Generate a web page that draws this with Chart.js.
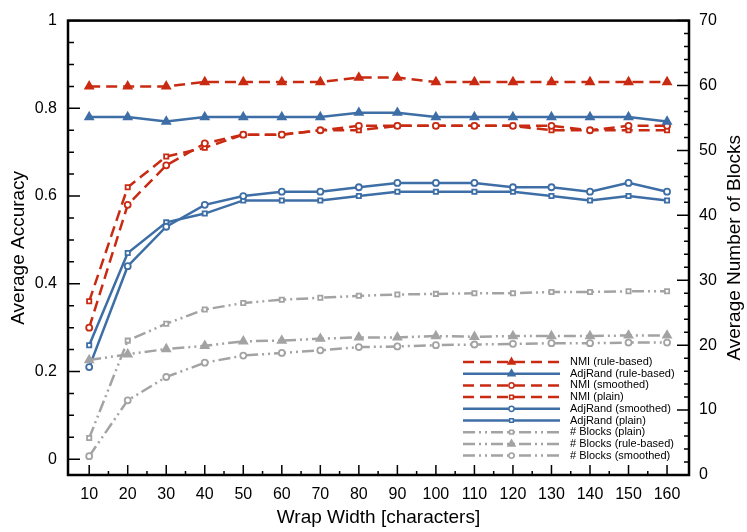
<!DOCTYPE html>
<html>
<head>
<meta charset="utf-8">
<script src="https://cdn.jsdelivr.net/npm/chart.js@4"></script>
<style>
  html, body { margin: 0; padding: 0; background: #fff; }
  #wrap { width: 747px; height: 532px; }
</style>
</head>
<body>
<div id="wrap"><canvas id="chart" width="747" height="532"></canvas></div>
<script>
// Wrap widths (x categories)
const widths = [10, 20, 30, 40, 50, 60, 70, 80, 90, 100, 110, 120, 130, 140, 150, 160];

// Accuracy series (left axis)
const nmiRule = [0.85, 0.85, 0.85, 0.86, 0.86, 0.86, 0.86, 0.87, 0.87, 0.86, 0.86, 0.86, 0.86, 0.86, 0.86, 0.86];
const adjRule = [0.78, 0.78, 0.77, 0.78, 0.78, 0.78, 0.78, 0.79, 0.79, 0.78, 0.78, 0.78, 0.78, 0.78, 0.78, 0.77];
const nmiSmoothed = [0.30, 0.58, 0.67, 0.72, 0.74, 0.74, 0.75, 0.76, 0.76, 0.76, 0.76, 0.76, 0.76, 0.75, 0.76, 0.76];
const nmiPlain = [0.36, 0.62, 0.69, 0.71, 0.74, 0.74, 0.75, 0.75, 0.76, 0.76, 0.76, 0.76, 0.75, 0.75, 0.75, 0.75];
const adjSmoothed = [0.21, 0.44, 0.53, 0.58, 0.60, 0.61, 0.61, 0.62, 0.63, 0.63, 0.63, 0.62, 0.62, 0.61, 0.63, 0.61];
const adjPlain = [0.26, 0.47, 0.54, 0.56, 0.59, 0.59, 0.59, 0.60, 0.61, 0.61, 0.61, 0.61, 0.60, 0.59, 0.60, 0.59];

// Number of blocks (right axis)
const blocksPlain = [5.7, 20.7, 23.3, 25.5, 26.5, 27.0, 27.3, 27.6, 27.8, 27.9, 28.0, 28.0, 28.2, 28.2, 28.3, 28.3];
const blocksRule = [17.7, 18.6, 19.4, 19.9, 20.6, 20.7, 21.0, 21.2, 21.2, 21.4, 21.3, 21.4, 21.4, 21.4, 21.5, 21.5];
const blocksSmoothed = [2.9, 11.5, 15.1, 17.3, 18.4, 18.8, 19.2, 19.7, 19.8, 20.0, 20.1, 20.2, 20.3, 20.3, 20.4, 20.4];

// Tick labels
const xTicks = widths;
const accTicks = [0, 0.2, 0.4, 0.6, 0.8, 1];
const blockTicks = [0, 10, 20, 30, 40, 50, 60, 70];

const legendOrder = [
  "NMI (rule-based)", "AdjRand (rule-based)", "NMI (smoothed)", "NMI (plain)",
  "AdjRand (smoothed)", "AdjRand (plain)", "# Blocks (plain)", "# Blocks (rule-based)", "# Blocks (smoothed)"
];

const RED = "#c92a12";
const BLUE = "#3e6ea6";
const GREY = "#a3a3a3";
const FONT = "'Liberation Sans', Arial, Helvetica, sans-serif";

const pts = (arr) => arr.map((v, i) => ({ x: widths[i], y: v }));

function series(label, values, color, dash, style, axis) {
  const filled = style === "triangle";
  return {
    label: label,
    data: pts(values),
    yAxisID: axis,
    borderColor: color,
    borderWidth: 2.5,
    borderDash: dash,
    pointStyle: style,
    pointRadius: filled ? 4.5 : 3,
    pointBorderWidth: 1.8,
    pointBackgroundColor: filled ? color : "#fff",
    pointBorderColor: color,
    fill: false,
    tension: 0,
  };
}

const dashRed = [11, 6];
const dashGrey = [12, 4, 2, 4, 2, 4];

const datasets = [
  series("# Blocks (plain)", blocksPlain, GREY, dashGrey, "rect", "yR"),
  series("# Blocks (rule-based)", blocksRule, GREY, dashGrey, "triangle", "yR"),
  series("# Blocks (smoothed)", blocksSmoothed, GREY, dashGrey, "circle", "yR"),
  series("AdjRand (smoothed)", adjSmoothed, BLUE, [], "circle", "y"),
  series("AdjRand (plain)", adjPlain, BLUE, [], "rect", "y"),
  series("AdjRand (rule-based)", adjRule, BLUE, [], "triangle", "y"),
  series("NMI (smoothed)", nmiSmoothed, RED, dashRed, "circle", "y"),
  series("NMI (plain)", nmiPlain, RED, dashRed, "rect", "y"),
  series("NMI (rule-based)", nmiRule, RED, dashRed, "triangle", "y"),
];

// Frame + inward tick marks + right title (reads bottom to top)
const frameTicks = {
  id: "frameTicks",
  afterDatasetsDraw(chart) {
    const ctx = chart.ctx;
    const a = chart.chartArea;
    const sx = chart.scales.x, sy = chart.scales.y, sr = chart.scales.yR;
    ctx.save();
    ctx.strokeStyle = "#000";
    ctx.lineWidth = 1.5;
    ctx.beginPath();
    for (let v = 10; v <= 160; v += 5) {
      const px = sx.getPixelForValue(v);
      const len = v % 10 === 0 ? 10 : 4;
      ctx.moveTo(px, a.bottom); ctx.lineTo(px, a.bottom - len);
    }
    for (let i = 0; i <= 20; i++) {
      const v = i * 0.05;
      const py = sy.getPixelForValue(v);
      const len = i % 4 === 0 ? 12 : 6;
      ctx.moveTo(a.left, py); ctx.lineTo(a.left + len, py);
    }
    for (let v = 0; v <= 70; v += 2) {
      const py = sr.getPixelForValue(v);
      const len = v % 10 === 0 ? 12 : 5;
      ctx.moveTo(a.right, py); ctx.lineTo(a.right - len, py);
    }
    ctx.stroke();
    ctx.lineWidth = 2.5;
    ctx.strokeRect(a.left, a.top, a.right - a.left, a.bottom - a.top);

    ctx.translate(chart.width - 12, (a.top + a.bottom) / 2);
    ctx.rotate(-Math.PI / 2);
    ctx.font = "19px " + FONT;
    ctx.fillStyle = "#000";
    ctx.textAlign = "center";
    ctx.textBaseline = "middle";
    ctx.fillText("Average Number of Blocks", 0, 0);
    ctx.restore();
  }
};

// Legend drawn inside the plot, bottom right
const innerLegend = {
  id: "innerLegend",
  afterDraw(chart) {
    const ctx = chart.ctx;
    const a = chart.chartArea;
    const x0 = a.right - 226, x1 = a.right - 129, tx = a.right - 119;
    let y = a.bottom - 113;
    ctx.save();
    ctx.font = "11px " + FONT;
    ctx.textBaseline = "middle";
    legendOrder.forEach((label) => {
      const idx = chart.data.datasets.findIndex((d) => d.label === label);
      const ds = chart.data.datasets[idx];
      ctx.strokeStyle = ds.borderColor;
      ctx.lineWidth = 2.5;
      ctx.setLineDash(ds.borderDash);
      ctx.beginPath();
      ctx.moveTo(x0, y); ctx.lineTo(x1, y);
      ctx.stroke();
      ctx.setLineDash([]);
      ctx.lineWidth = 1.5;
      ctx.fillStyle = ds.pointBackgroundColor;
      ctx.strokeStyle = ds.pointBorderColor;
      Chart.helpers.drawPoint(ctx, {
        pointStyle: ds.pointStyle,
        radius: ds.pointStyle === "triangle" ? 4 : 2.6,
        borderWidth: 1.5,
        rotation: 0,
      }, (x0 + x1) / 2, y);
      ctx.fillStyle = "#000";
      ctx.fillText(label, tx, y);
      y += 11.7;
    });
    ctx.restore();
  }
};

const tickFont = { family: FONT, size: 16 };
const titleFont = { family: FONT, size: 19 };

new Chart(document.getElementById("chart"), {
  type: "line",
  data: { datasets: datasets },
  plugins: [frameTicks, innerLegend],
  options: {
    responsive: false,
    animation: false,
    layout: { padding: { top: 19, left: 0, right: 0, bottom: 0 } },
    plugins: { legend: { display: false }, tooltip: { enabled: false } },
    scales: {
      x: {
        type: "linear",
        min: 4.5,
        max: 165.7,
        grid: { display: false, drawTicks: false },
        border: { display: false },
        afterBuildTicks: (s) => { s.ticks = xTicks.map((v) => ({ value: v })); },
        afterFit: (s) => { s.height = 57; },
        ticks: { color: "#000", font: tickFont, padding: 10, maxRotation: 0, autoSkip: false },
        title: { display: true, text: "Wrap Width [characters]", color: "#000", font: titleFont, padding: { top: 0, bottom: 3 } },
      },
      y: {
        position: "left",
        min: -0.036,
        max: 1,
        grid: { display: false, drawTicks: false },
        border: { display: false },
        afterBuildTicks: (s) => { s.ticks = accTicks.map((v) => ({ value: v })); },
        afterFit: (s) => { s.width = 68; },
        ticks: { color: "#000", font: tickFont, padding: 11, callback: (v) => String(v) },
        title: { display: true, text: "Average Accuracy", color: "#000", font: titleFont, padding: { top: 7, bottom: 0 } },
      },
      yR: {
        position: "right",
        min: 0,
        max: 70,
        grid: { display: false, drawTicks: false },
        border: { display: false },
        afterBuildTicks: (s) => { s.ticks = blockTicks.map((v) => ({ value: v })); },
        afterFit: (s) => { s.width = 58; },
        ticks: { color: "#000", font: tickFont, padding: 10 },
      },
    },
  },
});
</script>
</body>
</html>
